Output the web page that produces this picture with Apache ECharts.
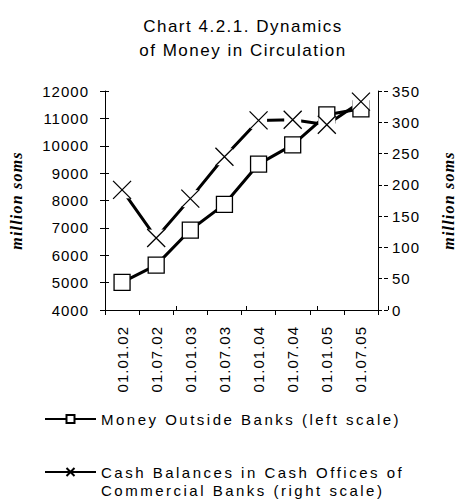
<!DOCTYPE html>
<html>
<head>
<meta charset="utf-8">
<script src="https://cdn.jsdelivr.net/npm/echarts@6/dist/echarts.min.js"></script>
<style>
  html, body { margin: 0; padding: 0; background: #fff; }
  #chart { width: 464px; height: 499px; }
  /* Spaced-out lettering, keyed on the font family alias each text uses */
  #chart text { letter-spacing: 1px; }
  #chart text[style*="LegendFace"] { letter-spacing: 2.5px; }
  #chart text[style*="UnitFace"] { letter-spacing: 1.2px; }
  #chart text[style*="TitleFace"] { letter-spacing: 1.5px; }
</style>
</head>
<body>
<div id="chart"></div>
<script>
// Semi-annual observation dates
const categories = ['01.01.02', '01.07.02', '01.01.03', '01.07.03', '01.01.04', '01.07.04', '01.01.05', '01.07.05'];
// Money outside banks, million soms (left scale)
const moneyOutsideBanks = [5010, 5640, 6920, 7860, 9330, 10030, 11130, 11350];
// Cash balances in cash offices of commercial banks, million soms (right scale)
const cashBalances = [192, 115, 178, 245, 303, 304, 296, 333];
// Axis ranges
const leftScale = { min: 4000, max: 12000, interval: 1000 };
const rightScale = { min: 0, max: 350, interval: 50 };

const seriesNames = ['Money Outside Banks (left scale)', 'Cash Balances in Cash Offices of\nCommercial Banks (right scale)'];
const crossPath = 'path://M0,0L10,10M10,0L0,10';

const sans = 'Liberation Sans';
const plainNumber = v => String(v);
const axisFont = { color: '#000', fontSize: 15, fontFamily: sans };
const gridBox = { left: 105, right: 76, top: 91, bottom: 189 };
const unitName = { color: '#000', fontSize: 16, fontWeight: 'bold', fontStyle: 'italic', fontFamily: 'UnitFace, Liberation Serif' };
const legendText = { color: '#000', fontSize: 15, fontFamily: 'LegendFace, Liberation Sans', lineHeight: 18 };

const chart = echarts.init(document.getElementById('chart'), null, { renderer: 'svg' });

chart.setOption({
  animation: false,
  backgroundColor: '#fff',
  title: {
    text: 'Chart 4.2.1. Dynamics\nof Money in Circulation',
    left: 238,
    textAlign: 'center',
    top: 9,
    textStyle: { color: '#000', fontSize: 17, fontWeight: 'normal', fontFamily: 'TitleFace, Liberation Sans', lineHeight: 24 }
  },
  legend: [
    {
      data: [seriesNames[0]],
      left: 44, top: 410, padding: 0, itemGap: 3,
      itemWidth: 51, itemHeight: 10, selectedMode: false,
      textStyle: legendText
    },
    {
      // leading blank line keeps the marker level with the first text line
      data: [seriesNames[1]],
      formatter: name => '\n' + name,
      left: 44, top: 445, padding: 0, itemGap: 3,
      itemWidth: 51, itemHeight: 10, selectedMode: false,
      textStyle: legendText
    }
  ],
  grid: [
    Object.assign({}, gridBox),
    Object.assign({}, gridBox)
  ],
  xAxis: [
    {
      type: 'category', gridIndex: 0, data: categories, boundaryGap: true,
      axisLine: { lineStyle: { color: '#000', width: 1 } },
      axisTick: { show: true, length: 5, lineStyle: { color: '#000' } },
      axisLabel: Object.assign({ rotate: 90, margin: 16, interval: 0 }, axisFont),
      splitLine: { show: false }
    },
    {
      // inward half of the cross ticks
      type: 'category', gridIndex: 1, data: categories, boundaryGap: true, position: 'bottom',
      axisLine: { show: false },
      axisTick: { show: true, inside: true, length: 4, lineStyle: { color: '#000' } },
      axisLabel: { show: false },
      splitLine: { show: false }
    }
  ],
  yAxis: [
    Object.assign({
      type: 'value', gridIndex: 0, position: 'left',
      name: 'million soms', nameLocation: 'middle', nameRotate: 90, nameGap: 81,
      nameTextStyle: unitName,
      axisLine: { show: true, lineStyle: { color: '#000' } },
      axisTick: { show: true, length: 5, lineStyle: { color: '#000' } },
      axisLabel: Object.assign({ margin: 16, formatter: plainNumber }, axisFont),
      splitLine: { show: false }
    }, leftScale),
    Object.assign({
      type: 'value', gridIndex: 0, position: 'right',
      name: 'million soms', nameLocation: 'middle', nameRotate: 90, nameGap: 62,
      nameTextStyle: unitName,
      axisLine: { show: true, lineStyle: { color: '#000' } },
      axisTick: { show: true, length: 4, lineStyle: { color: '#000' } },
      axisLabel: Object.assign({ margin: 14, formatter: plainNumber }, axisFont),
      splitLine: { show: false }
    }, rightScale),
    Object.assign({
      type: 'value', gridIndex: 1, position: 'left',
      axisLine: { show: false },
      axisTick: { show: true, inside: true, length: 4, lineStyle: { color: '#000' } },
      axisLabel: { show: false },
      splitLine: { show: false }
    }, leftScale),
    Object.assign({
      type: 'value', gridIndex: 1, position: 'right',
      axisLine: { show: false },
      axisTick: { show: true, inside: true, length: 4, lineStyle: { color: '#000' } },
      axisLabel: { show: false },
      splitLine: { show: false }
    }, rightScale)
  ],
  series: [
    {
      name: seriesNames[0], type: 'line', xAxisIndex: 0, yAxisIndex: 0,
      data: moneyOutsideBanks, z: 2, silent: true,
      symbol: 'rect', symbolSize: 16,
      itemStyle: { color: '#fff', borderColor: '#000', borderWidth: 1.3 },
      lineStyle: { color: '#000', width: 3 }
    },
    {
      name: seriesNames[1], type: 'line', xAxisIndex: 0, yAxisIndex: 1,
      data: cashBalances, z: 3, silent: true,
      symbol: crossPath, showSymbol: false,
      itemStyle: { color: '#000', borderColor: '#000', borderWidth: 1.2 },
      lineStyle: { color: '#000', width: 3 }
    },
    {
      // white backing behind each cross marker
      name: 'cashMarkerBacking', type: 'line', xAxisIndex: 0, yAxisIndex: 1,
      data: cashBalances, z: 4, silent: true,
      symbol: 'rect', symbolSize: 17, showAllSymbol: true,
      itemStyle: { color: '#fff', borderWidth: 0 },
      lineStyle: { opacity: 0, width: 0 }
    },
    {
      name: 'cashMarkers', type: 'line', xAxisIndex: 0, yAxisIndex: 1,
      data: cashBalances, z: 5, silent: true,
      symbol: crossPath, symbolSize: 18, showAllSymbol: true,
      itemStyle: { color: 'none', borderColor: '#000', borderWidth: 1.3 },
      lineStyle: { opacity: 0, width: 0 }
    }
  ]
});
</script>
</body>
</html>
